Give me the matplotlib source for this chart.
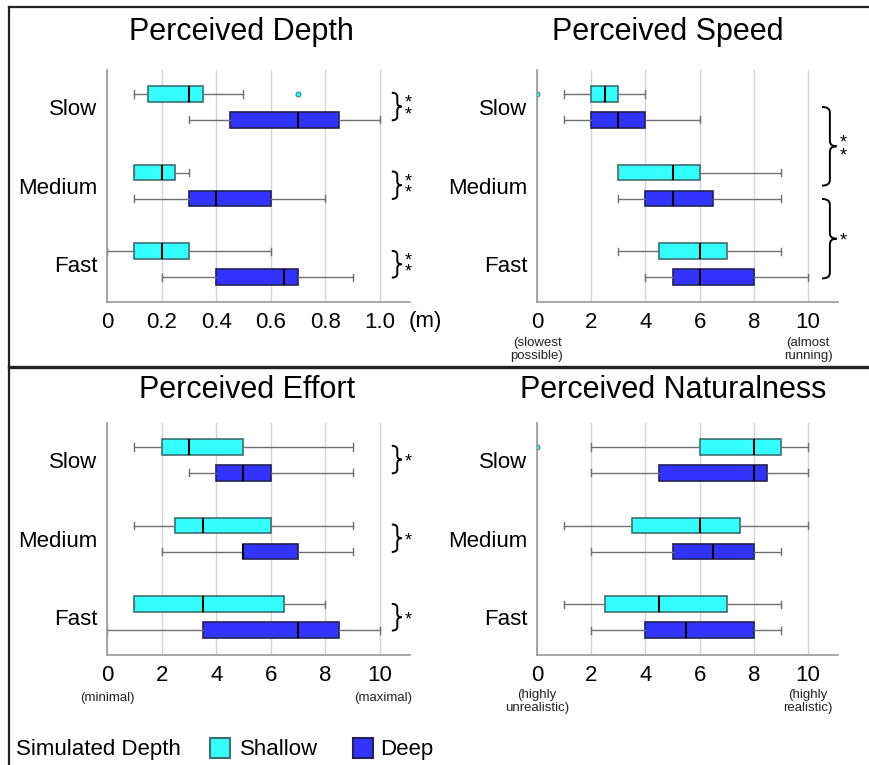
import matplotlib
matplotlib.use('Agg')
import matplotlib.pyplot as plt
from matplotlib.path import Path
from matplotlib.patches import PathPatch, Rectangle
from matplotlib.lines import Line2D
import matplotlib.transforms as mtransforms

plt.rcParams['font.family'] = ['Liberation Sans', 'DejaVu Sans']

# data: [whisker low, q1, median, q3, whisker high] per speed group
groups = ['Slow', 'Medium', 'Fast']

depth_shallow = [[0.1, 0.15, 0.3, 0.35, 0.5], [0.1, 0.1, 0.2, 0.25, 0.3], [0.0, 0.1, 0.2, 0.3, 0.6]]
depth_deep = [[0.3, 0.45, 0.7, 0.85, 1.0], [0.1, 0.3, 0.4, 0.6, 0.8], [0.2, 0.4, 0.65, 0.7, 0.9]]
depth_fliers = [[0.7], [], []]

speed_shallow = [[1, 2, 2.5, 3, 4], [3, 3, 5, 6, 9], [3, 4.5, 6, 7, 9]]
speed_deep = [[1, 2, 3, 4, 6], [3, 4, 5, 6.5, 9], [4, 5, 6, 8, 10]]
speed_fliers = [[0], [], []]

effort_shallow = [[1, 2, 3, 5, 9], [1, 2.5, 3.5, 6, 9], [1, 1, 3.5, 6.5, 8]]
effort_deep = [[3, 4, 5, 6, 9], [2, 5, 5, 7, 9], [0, 3.5, 7, 8.5, 10]]
effort_fliers = [[], [], []]

nat_shallow = [[2, 6, 8, 9, 10], [1, 3.5, 6, 7.5, 10], [1, 2.5, 4.5, 7, 9]]
nat_deep = [[2, 4.5, 8, 8.5, 10], [2, 5, 6.5, 8, 9], [2, 4, 5.5, 8, 9]]
nat_fliers = [[0], [], []]

# significance: (y start, y end, stars)
depth_sig = [(-0.18, 0.17, '**'), (0.82, 1.17, '**'), (1.83, 2.17, '**')]
speed_sig = [(0.0, 1.0, '**'), (1.17, 2.18, '*')]
effort_sig = [(-0.18, 0.17, '*'), (0.82, 1.17, '*'), (1.83, 2.17, '*')]
nat_sig = []

cyan = '#33FFFF'
blue = '#3333FF'
cyan_edge = '#3d7070'
blue_edge = '#222255'


def stats(vals, fl):
    lo, q1, med, q3, hi = vals
    return dict(whislo=lo, q1=q1, med=med, q3=q3, whishi=hi, fliers=fl)


def brace(ax, y0, y1, x0, xv, xt, r):
    ym = (y0 + y1) / 2
    verts = [(x0, y0), (xv, y0), (xv, y0 + r),
             (xv, ym - r), (xv, ym), (xt, ym),
             (xv, ym), (xv, ym + r),
             (xv, y1 - r), (xv, y1), (x0, y1)]
    codes = [Path.MOVETO, Path.CURVE3, Path.CURVE3,
             Path.LINETO, Path.CURVE3, Path.CURVE3,
             Path.CURVE3, Path.CURVE3,
             Path.LINETO, Path.CURVE3, Path.CURVE3]
    tr = mtransforms.blended_transform_factory(ax.transAxes, ax.transData)
    ax.add_patch(PathPatch(Path(verts, codes), fill=False, lw=1.4, color='black',
                           transform=tr, clip_on=False))
    return tr, ym


def panel(rect, shallow, deep, fliers, xmax, ticks, ticklabels, sig, wide):
    ax = fig.add_axes(rect)
    off = 0.165
    for data, fl, col, ec, sgn in [(shallow, fliers, cyan, cyan_edge, -1),
                                   (deep, [[], [], []], blue, blue_edge, 1)]:
        st = [stats(v, f) for v, f in zip(data, fl)]
        pos = [i + sgn * off for i in range(3)]
        ax.bxp(st, positions=pos, widths=0.2, orientation='horizontal',
               patch_artist=True, capwidths=0.09,
               boxprops=dict(facecolor=col, edgecolor=ec, lw=1.2),
               whiskerprops=dict(color='#707070', lw=1.0),
               capprops=dict(color='#707070', lw=1.0),
               medianprops=dict(color='black', lw=1.5),
               flierprops=dict(marker='o', markersize=3.5, markerfacecolor=col,
                               markeredgecolor='#2a8a8a', markeredgewidth=0.8))
    ax.set_xlim(0, xmax)
    ax.set_ylim(2.48, -0.47)
    ax.set_xticks(ticks)
    ax.set_xticklabels(ticklabels, fontsize=16)
    ax.set_yticks([0, 1, 2])
    ax.set_yticklabels(groups, fontsize=16)
    ax.tick_params(axis='both', length=0)
    ax.tick_params(axis='x', pad=7)
    ax.tick_params(axis='y', pad=7)
    ax.grid(axis='x', color='#d4d4d4', lw=1)
    ax.set_axisbelow(True)
    for s in ['top', 'right']:
        ax.spines[s].set_visible(False)
    for s in ['left', 'bottom']:
        ax.spines[s].set_color('#999999')
        ax.spines[s].set_linewidth(1.2)
    for y0, y1, stars in sig:
        if wide:
            tr, ym = brace(ax, y0, y1, 0.947, 0.973, 0.995, 0.07)
            xs = 1.018
        else:
            tr, ym = brace(ax, y0, y1, 0.94, 0.958, 0.972, 0.05)
            xs = 0.995
        if stars == '**':
            ax.text(xs, ym + (0.04 if wide else 0.03), '*\n*', transform=tr,
                    ha='center', va='center', fontsize=13,
                    linespacing=0.55 if not wide else 0.72, clip_on=False)
        else:
            ax.text(xs, ym + 0.03, '*', transform=tr, ha='center', va='center',
                    fontsize=13, clip_on=False)
    return ax


W, H = 869, 765
fig = plt.figure(figsize=(W / 100, H / 100), dpi=100)


def frect(l, t, r, b):
    return [l / W, 1 - b / H, (r - l) / W, (b - t) / H]


num_ticks = [0, 2, 4, 6, 8, 10]
num_labels = ['0', '2', '4', '6', '8', '10']

ax1 = panel(frect(107, 70, 410, 302), depth_shallow, depth_deep, depth_fliers, 1.11,
            [0, 0.2, 0.4, 0.6, 0.8, 1.0], ['0', '0.2', '0.4', '0.6', '0.8', '1.0'],
            depth_sig, False)
ax2 = panel(frect(537, 70, 838, 302), speed_shallow, speed_deep, speed_fliers, 11.1,
            num_ticks, num_labels, speed_sig, True)
ax3 = panel(frect(107, 423, 410, 655), effort_shallow, effort_deep, effort_fliers, 11.1,
            num_ticks, num_labels, effort_sig, False)
ax4 = panel(frect(537, 423, 838, 655), nat_shallow, nat_deep, nat_fliers, 11.1,
            num_ticks, num_labels, nat_sig, True)

ax1.text(1.05, -0.086, '(m)', transform=ax1.transAxes, ha='center', va='center', fontsize=16)


def sublabel(ax, x, y, s):
    tr = mtransforms.blended_transform_factory(ax.transData, ax.transAxes)
    ax.text(x, y, s, transform=tr, ha='center', va='center', fontsize=9.5,
            linespacing=1.05, color='#222222')


sublabel(ax2, 0, -0.205, '(slowest\npossible)')
sublabel(ax2, 10, -0.205, '(almost\nrunning)')
sublabel(ax3, 0, -0.185, '(minimal)')
sublabel(ax3, 10.1, -0.185, '(maximal)')
sublabel(ax4, 0, -0.2, '(highly\nunrealistic)')
sublabel(ax4, 10, -0.2, '(highly\nrealistic)')

titles = [('Perceived Depth', 241, 40), ('Perceived Speed', 668, 40),
          ('Perceived Effort', 247, 398), ('Perceived Naturalness', 673, 398)]
for t, x, y in titles:
    fig.text(x / W, 1 - y / H, t, ha='center', va='baseline', fontsize=22)

# legend
fig.text(16 / W, 1 - 755 / H, 'Simulated Depth', ha='left', va='baseline', fontsize=16)
for x, col, ec, lab, tx in [(210, cyan, cyan_edge, 'Shallow', 240), (353, blue, blue_edge, 'Deep', 380)]:
    fig.add_artist(Rectangle((x / W, 1 - 758 / H), 20 / W, 20 / H, facecolor=col,
                             edgecolor=ec, lw=1.5, transform=fig.transFigure))
    fig.text(tx / W, 1 - 755 / H, lab, ha='left', va='baseline', fontsize=16)

# frame lines
fig.add_artist(Line2D([9 / W, 9 / W], [1 - 7 / H, 0], color='#222222', lw=1.6, transform=fig.transFigure))
fig.add_artist(Line2D([9 / W, 1], [1 - 7 / H, 1 - 7 / H], color='#222222', lw=1.6, transform=fig.transFigure))
fig.add_artist(Line2D([9 / W, 1], [1 - 367 / H, 1 - 367 / H], color='#222222', lw=2.4, transform=fig.transFigure))

fig.savefig('out.png', dpi=100)
